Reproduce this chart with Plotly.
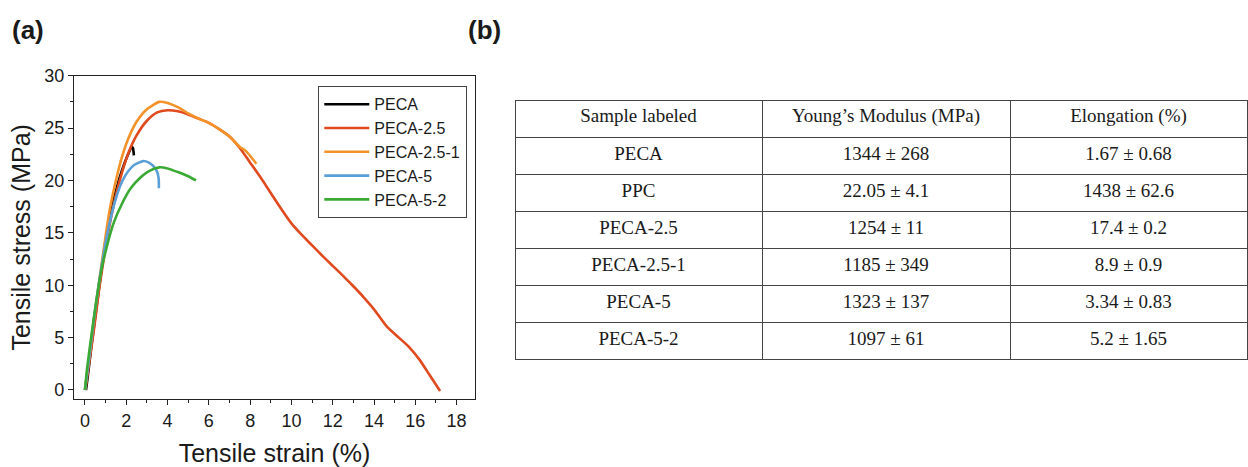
import plotly.graph_objects as go

# ---------------- data ----------------
series_names = ["PECA", "PECA-2.5", "PECA-2.5-1", "PECA-5", "PECA-5-2"]
series_colors = ["#000000", "#e04a1e", "#f39228", "#5b9fd8", "#3aaa35"]

strain_peca = [0.05, 0.15, 0.3, 0.5, 0.7, 0.95, 1.2, 1.5, 1.8, 2.05, 2.26, 2.32, 2.37]
stress_peca = [0.0, 1.5, 4.0, 7.0, 10.0, 13.5, 16.5, 19.0, 21.0, 22.3, 23.2, 23.1, 22.4]

strain_peca25 = [0.02, 0.2, 0.45, 0.7, 0.95, 1.2, 1.5, 1.8, 2.1, 2.5, 3.0, 3.5, 4.0, 4.5,
                 5.0, 5.5, 6.0, 6.5, 7.0, 7.5, 8.0, 8.5, 9.0, 9.5, 10.0, 10.5, 11.0,
                 11.5, 12.0, 12.5, 13.0, 13.5, 14.0, 14.6, 15.2, 15.7, 16.2, 16.7, 17.2]
stress_peca25 = [0.0, 2.5, 6.0, 9.8, 13.0, 15.8, 18.6, 20.8, 22.6, 24.3, 25.7, 26.5, 26.7, 26.6,
                 26.3, 25.9, 25.5, 24.9, 24.2, 23.1, 21.7, 20.3, 18.8, 17.3, 15.9, 14.8, 13.8,
                 12.8, 11.85, 10.9, 9.9, 8.85, 7.7, 6.1, 5.0, 4.1, 2.9, 1.4, -0.1]

strain_peca251 = [0.0, 0.2, 0.45, 0.7, 0.95, 1.2, 1.5, 1.8, 2.1, 2.5, 3.0, 3.6, 4.0, 4.5,
                  5.0, 5.5, 6.0, 6.5, 7.0, 7.5, 7.8, 8.1, 8.3]
stress_peca251 = [0.0, 3.0, 7.0, 10.5, 14.0, 17.2, 20.0, 22.3, 24.0, 25.6, 26.8, 27.5, 27.4, 27.0,
                  26.4, 25.9, 25.5, 24.9, 24.2, 23.2, 22.8, 22.1, 21.6]

strain_peca5 = [0.0, 0.2, 0.45, 0.7, 0.95, 1.2, 1.5, 1.8, 2.1, 2.4, 2.82, 3.1, 3.35, 3.5, 3.57, 3.58]
stress_peca5 = [0.0, 3.0, 7.0, 10.5, 13.5, 16.0, 18.3, 19.9, 20.9, 21.5, 21.85, 21.7, 21.3, 20.8, 20.2, 19.25]

strain_peca52 = [0.0, 0.1, 0.3, 0.55, 0.8, 1.1, 1.4, 1.8, 2.2, 2.7, 3.1, 3.6, 4.0, 4.5, 5.0, 5.38]
stress_peca52 = [0.0, 2.0, 5.0, 8.5, 11.5, 14.0, 16.0, 17.8, 19.2, 20.3, 20.9, 21.25, 21.15, 20.8, 20.4, 20.0]

x_tickvals = [0, 2, 4, 6, 8, 10, 12, 14, 16, 18]
y_tickvals = [0, 5, 10, 15, 20, 25, 30]

table_header = ["Sample labeled", "Young\u2019s Modulus (MPa)", "Elongation (%)"]
table_samples = ["PECA", "PPC", "PECA-2.5", "PECA-2.5-1", "PECA-5", "PECA-5-2"]
table_modulus = ["1344 \u00b1 268", "22.05 \u00b1 4.1", "1254 \u00b1 11", "1185 \u00b1 349",
                 "1323 \u00b1 137", "1097 \u00b1 61"]
table_elongation = ["1.67 \u00b1 0.68", "1438 \u00b1 62.6", "17.4 \u00b1 0.2", "8.9 \u00b1 0.9",
                    "3.34 \u00b1 0.83", "5.2 \u00b1 1.65"]

# ---------------- figure ----------------
W, H = 1248, 467
SANS = "Liberation Sans, Arial, sans-serif"
SERIF = "Liberation Serif, Times New Roman, serif"
TXT = "#1a1a1a"

fig = go.Figure()
all_x = [strain_peca, strain_peca25, strain_peca251, strain_peca5, strain_peca52]
all_y = [stress_peca, stress_peca25, stress_peca251, stress_peca5, stress_peca52]
for name, col, xs, ys in zip(series_names, series_colors, all_x, all_y):
    fig.add_trace(go.Scatter(x=xs, y=ys, name=name, mode="lines",
                             line=dict(color=col, width=2.6, shape="spline", smoothing=0.6)))

fig.add_trace(go.Table(
    domain=dict(x=[515 / W, 1247 / W], y=[0, 1 - 100 / H]),
    columnwidth=[247, 248, 237],
    header=dict(values=table_header, height=37.5, align="center",
                font=dict(family=SERIF, size=19, color=TXT),
                fill=dict(color="white"), line=dict(color="#444444", width=1)),
    cells=dict(values=[table_samples, table_modulus, table_elongation], height=37,
               align="center", font=dict(family=SERIF, size=19, color=TXT),
               fill=dict(color="white"), line=dict(color="#444444", width=1)),
))

axis_common = dict(showline=True, linecolor="#222222", linewidth=1.3, mirror=True,
                   ticks="outside", ticklen=5, tickwidth=1.2, tickcolor="#222222",
                   showgrid=False, zeroline=False, automargin=False,
                   tickfont=dict(family=SANS, size=18, color=TXT))

fig.update_xaxes(**axis_common, domain=[74 / W, 475 / W], range=[-0.53, 18.89],
                 tickvals=x_tickvals,
                 minor=dict(dtick=1, ticks="outside", ticklen=3, tickcolor="#222222"),
                 title=dict(text="Tensile strain (%)", standoff=14,
                            font=dict(family=SANS, size=25, color=TXT)))
fig.update_yaxes(**axis_common, domain=[1 - 399 / H, 1 - 75.7 / H], range=[-0.86, 30],
                 tickvals=y_tickvals,
                 minor=dict(dtick=2.5, ticks="outside", ticklen=3, tickcolor="#222222"),
                 title=dict(text="Tensile stress (MPa)", standoff=6,
                            font=dict(family=SANS, size=25, color=TXT)))

fig.update_layout(
    width=W, height=H, margin=dict(l=0, r=0, t=0, b=0),
    paper_bgcolor="white", plot_bgcolor="white",
    showlegend=True,
    legend=dict(x=318 / W, y=1 - 86 / H, xanchor="left", yanchor="top",
                bordercolor="#444444", borderwidth=1.3, bgcolor="white",
                font=dict(family=SANS, size=16, color=TXT),
                itemwidth=45, tracegroupgap=0),
    annotations=[
        dict(text="<b>(a)</b>", x=10 / W, y=1 - 30 / H, xref="paper", yref="paper",
             xanchor="left", yanchor="middle", showarrow=False,
             font=dict(family=SANS, size=26, color=TXT)),
        dict(text="<b>(b)</b>", x=466 / W, y=1 - 30 / H, xref="paper", yref="paper",
             xanchor="left", yanchor="middle", showarrow=False,
             font=dict(family=SANS, size=26, color=TXT)),
    ],
)

fig.write_html("out.html")
